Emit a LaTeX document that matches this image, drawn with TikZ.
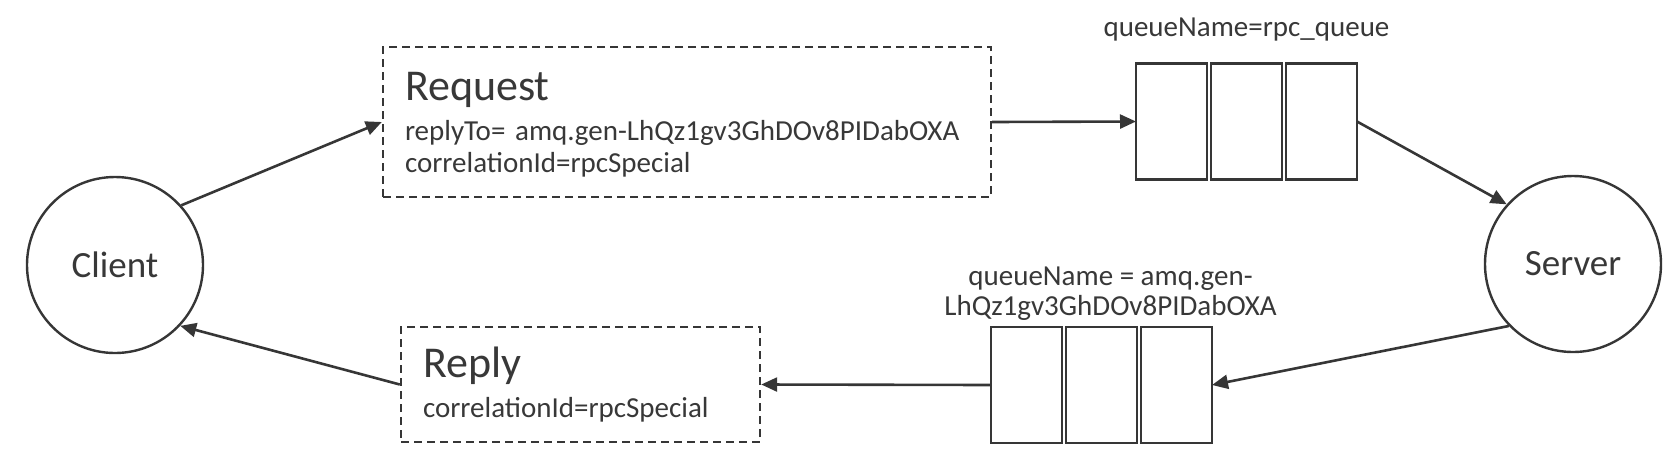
\documentclass[tikz,border=0pt]{standalone}
\usepackage{fontspec}
\setmainfont{Carlito}
\usetikzlibrary{positioning}
\usetikzlibrary{arrows.meta}
\definecolor{linegray}{HTML}{363636}
\definecolor{textgray}{HTML}{383838}

\begin{document}
\begin{tikzpicture}[
x=0.5pt, y=-0.5pt,
roundnode/.style={circle, draw=linegray, line width=1.2pt, minimum size=88pt, inner sep=0pt, text=textgray, font=\fontsize{18.5}{22}\selectfont},
msgnode/.style={rectangle, draw=linegray, dash pattern=on 4pt off 2.5pt, line width=1.2pt, text=textgray, align=left, inner xsep=11pt, font=\fontsize{14.5}{16}\selectfont},
cellnode/.style={rectangle, draw=linegray, line width=1.3pt, minimum width=35.5pt, minimum height=58pt, inner sep=0pt, outer sep=0pt},
labelnode/.style={text=textgray, inner sep=0pt, align=center, font=\fontsize{14.5}{15}\selectfont},
link/.style={-{Triangle[length=8pt,width=7pt]}, draw=linegray, line width=1.3pt},
]
\useasboundingbox (0,0) rectangle (1678,468);

%Nodes
\node[roundnode]        (client)       at (115,265)     {Client};
\node[roundnode]        (server)       at (1573,264)    {Server};
\node[msgnode, minimum width=304pt, minimum height=75pt, text width=282pt] (request) at (687,122)
  {{\fontsize{22}{26}\selectfont\rule{0pt}{17pt}Request}\\[4pt]\mbox{replyTo= amq.gen-LhQz1gv3GhDOv8PIDabOXA}\\correlationId=rpcSpecial};
\node[msgnode, minimum width=179.5pt, minimum height=57.5pt, text width=157.5pt] (reply) at (580.5,384.5)
  {{\fontsize{22}{26}\selectfont Reply}\\[4pt]correlationId=rpcSpecial};

%Queues
\node[cellnode]         (rpcA)         at (1171.5,121.5) {};
\node[cellnode]         (rpcB)         [right=2pt of rpcA] {};
\node[cellnode]         (rpcC)         [right=2pt of rpcB] {};
\node[labelnode]        (rpclabel)     [above=11pt of rpcB] {queueName=rpc\_queue};

\node[cellnode]         (tmpA)         at (1026.5,385)  {};
\node[cellnode]         (tmpB)         [right=2pt of tmpA] {};
\node[cellnode]         (tmpC)         [right=2pt of tmpB] {};
\node[labelnode]        (tmplabel)     [above=3pt of tmpB, xshift=4.5pt] {queueName = amq.gen-\\LhQz1gv3GhDOv8PIDabOXA};

%Lines
\draw[link] (client.42) -- (request.west);
\draw[link] (request.east) -- (rpcA.west);
\draw[link] (rpcC.east) -- (server.138);
\draw[link] (server.224) -- (tmpC.east);
\draw[link] (tmpA.west) -- (reply.east);
\draw[link] (reply.west) -- (client.317);
\end{tikzpicture}
\end{document}
